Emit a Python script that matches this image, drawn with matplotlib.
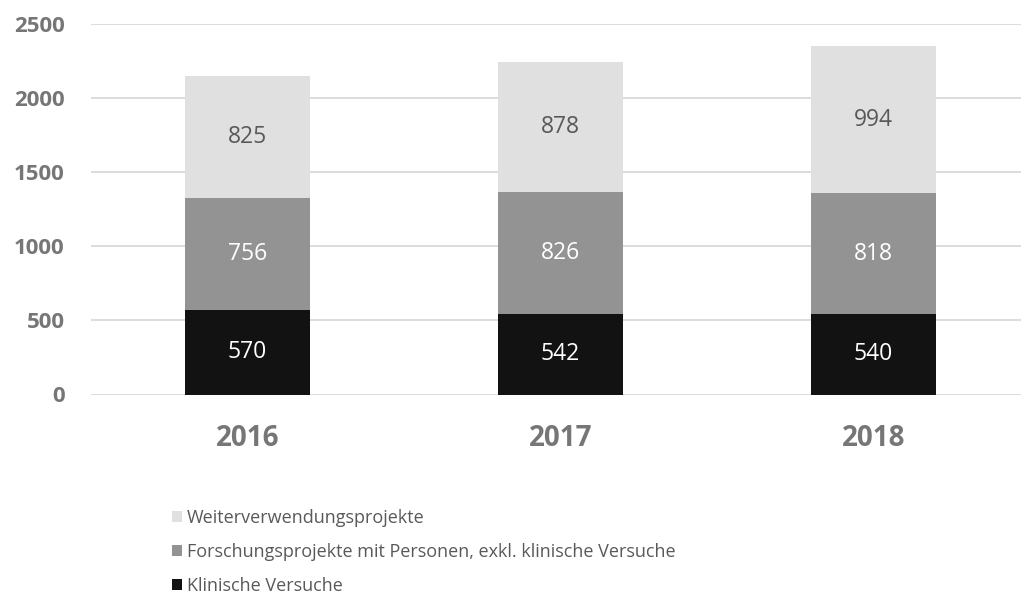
import matplotlib
matplotlib.use("Agg")
import matplotlib.pyplot as plt
from matplotlib.patches import Patch

plt.rcParams['font.family'] = ['Open Sans', 'DejaVu Sans']

years = ["2016", "2017", "2018"]
klinische = [570, 542, 540]
forschung = [756, 826, 818]
weiter = [825, 878, 994]
series_labels = ["Klinische Versuche",
                 "Forschungsprojekte mit Personen, exkl. klinische Versuche",
                 "Weiterverwendungsprojekte"]
colors = ["#121212", "#939393", "#e0e0e0"]
label_colors = ["white", "white", "#595959"]
yticks = [0, 500, 1000, 1500, 2000, 2500]

W, H = 1021, 596
fig = plt.figure(figsize=(W/100, H/100), dpi=100)
left, right, top, bottom = 91, 1030, 24, 394.5
ax = fig.add_axes([left/W, 1 - bottom/H, (right-left)/W, (bottom-top)/H])

x = list(range(len(years)))
bottoms = [0]*len(years)
for vals, c, lc in zip([klinische, forschung, weiter], colors, label_colors):
    ax.bar(x, vals, width=0.4, bottom=bottoms, color=c, zorder=2)
    for xi, b, v in zip(x, bottoms, vals):
        ax.text(xi, b + v/2, str(v), ha='center', va='center', fontsize=16.5,
                color=lc, zorder=3)
    bottoms = [b + v for b, v in zip(bottoms, vals)]

ax.set_xlim(-0.5, 2.5)
ax.set_ylim(0, 2500)
ax.set_yticks(yticks)
ax.set_yticklabels([str(t) for t in yticks], fontsize=16, fontweight='bold', color='#767676')
ax.set_xticks(x)
ax.set_xticklabels(years, fontsize=20, fontweight='bold', color='#767676')
ax.tick_params(axis='both', length=0)
ax.tick_params(axis='y', pad=19)
ax.tick_params(axis='x', pad=21)
ax.grid(axis='y', color='#d9d9d9', linewidth=1.3, zorder=0)
ax.set_axisbelow(True)
for s in ax.spines.values():
    s.set_visible(False)

handles = [Patch(facecolor=c) for c in colors][::-1]
leg = fig.legend(handles, series_labels[::-1], loc='upper left',
                 bbox_to_anchor=(172/W, 1 - 509/H), frameon=False,
                 fontsize=13, handlelength=0.58, handleheight=0.58,
                 handletextpad=0.25, labelspacing=0.88, borderaxespad=0,
                 borderpad=0)
for t in leg.get_texts():
    t.set_color('#595959')

fig.savefig("out.png", dpi=100)
